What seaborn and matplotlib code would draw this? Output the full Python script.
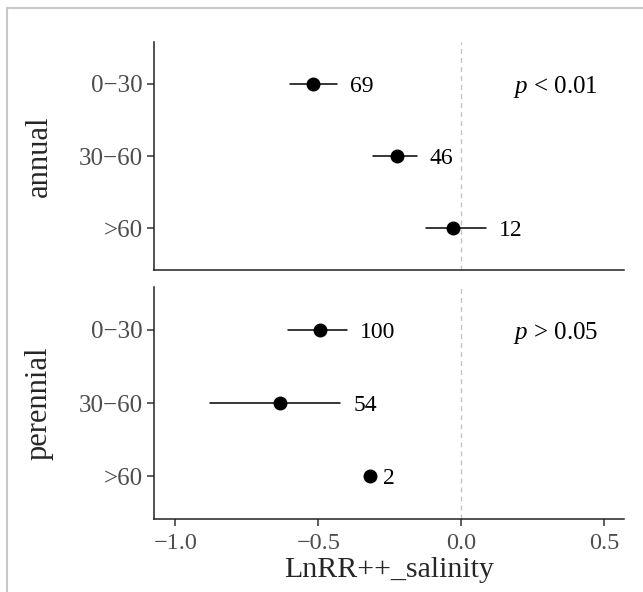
import numpy as np
import pandas as pd
import matplotlib
matplotlib.use("Agg")
import matplotlib.pyplot as plt
from matplotlib.lines import Line2D
import seaborn as sns

# effect sizes
depths = ["0\u221230", "30\u221260", ">60"]
groups = ["annual", "perennial"]
annual_mean = [-0.517, -0.224, -0.028]
annual_low = [-0.598, -0.308, -0.122]
annual_high = [-0.434, -0.154, 0.087]
annual_n = [69, 46, 12]
perennial_mean = [-0.493, -0.633, -0.318]
perennial_low = [-0.605, -0.878, -0.318]
perennial_high = [-0.399, -0.423, -0.318]
perennial_n = [100, 54, 2]
p_text = [r"$p$ < 0.01", r"$p$ > 0.05"]

series = {
    "annual": (annual_mean, annual_low, annual_high, annual_n),
    "perennial": (perennial_mean, perennial_low, perennial_high, perennial_n),
}

sns.set_style("white")
plt.rcParams["font.family"] = ["Liberation Serif", "DejaVu Serif"]
plt.rcParams["mathtext.fontset"] = "custom"
plt.rcParams["mathtext.it"] = "Liberation Serif:italic"
plt.rcParams["mathtext.rm"] = "Liberation Serif"

fig = plt.figure(figsize=(6.43, 5.92), dpi=100)
L, R = 154 / 643, 624 / 643
ax_top = fig.add_axes([L, 1 - 270 / 592, R - L, (270 - 42) / 592])
ax_bot = fig.add_axes([L, 1 - 519 / 592, R - L, (519 - 287) / 592], sharex=ax_top)

for ax, g, pt in zip([ax_top, ax_bot], groups, p_text):
    mean, low, high, n = series[g]
    # long table: low / mean / high per depth -> median gives the point,
    # 100% percentile interval gives the CI whiskers
    df = pd.DataFrame({
        "depth": np.repeat(depths, 3),
        "value": np.ravel(np.column_stack([low, mean, high])),
    })
    ax.axvline(0, color="#c4c4c4", lw=1, ls=(0, (3.5, 3)), zorder=0)
    sns.pointplot(data=df, x="value", y="depth", order=depths,
                  estimator="median", errorbar=("pi", 100),
                  linestyle="none", color="black", markersize=8,
                  err_kws={"linewidth": 1.1}, ax=ax)
    for i, (h, k) in enumerate(zip(high, n)):
        ax.text(h + 0.045, i, str(k), va="center_baseline", ha="left",
                fontsize=17, color="black")
    ax.text(0.18, 0, pt, va="center_baseline", ha="left", fontsize=18, color="black")

    ax.set_ylim(2.58, -0.58)
    ax.set_xlim(-1.075, 0.57)
    ax.set_ylabel(g, fontsize=22, labelpad=18)
    ax.set_xlabel("")
    for s in ["top", "right"]:
        ax.spines[s].set_visible(False)
    for s in ["left", "bottom"]:
        ax.spines[s].set_color("#222222")
        ax.spines[s].set_linewidth(1.1)
    ax.tick_params(axis="y", length=5, width=1.1, color="#333333",
                   labelsize=18, labelcolor="#4d4d4d", pad=3, left=True)

ax_top.tick_params(axis="x", bottom=False, labelbottom=False)
ax_bot.set_xticks([-1.0, -0.5, 0.0, 0.5])
ax_bot.set_xticklabels(["\u22121.0", "\u22120.5", "0.0", "0.5"])
ax_bot.tick_params(axis="x", length=5, width=1.1, color="#333333",
                   labelsize=17.5, labelcolor="#4d4d4d", pad=5, bottom=True)
ax_bot.set_xlabel("LnRR++_salinity", fontsize=21.5, labelpad=2)

# light frame seen on the top/left edge of the original image
fig.add_artist(Line2D([6.5 / 643, 1], [1 - 7.5 / 592] * 2, transform=fig.transFigure,
                      color="#c8c8c8", lw=1.5))
fig.add_artist(Line2D([6.5 / 643] * 2, [0, 1 - 7.5 / 592], transform=fig.transFigure,
                      color="#c8c8c8", lw=1.5))

fig.savefig("out.png", dpi=100)
